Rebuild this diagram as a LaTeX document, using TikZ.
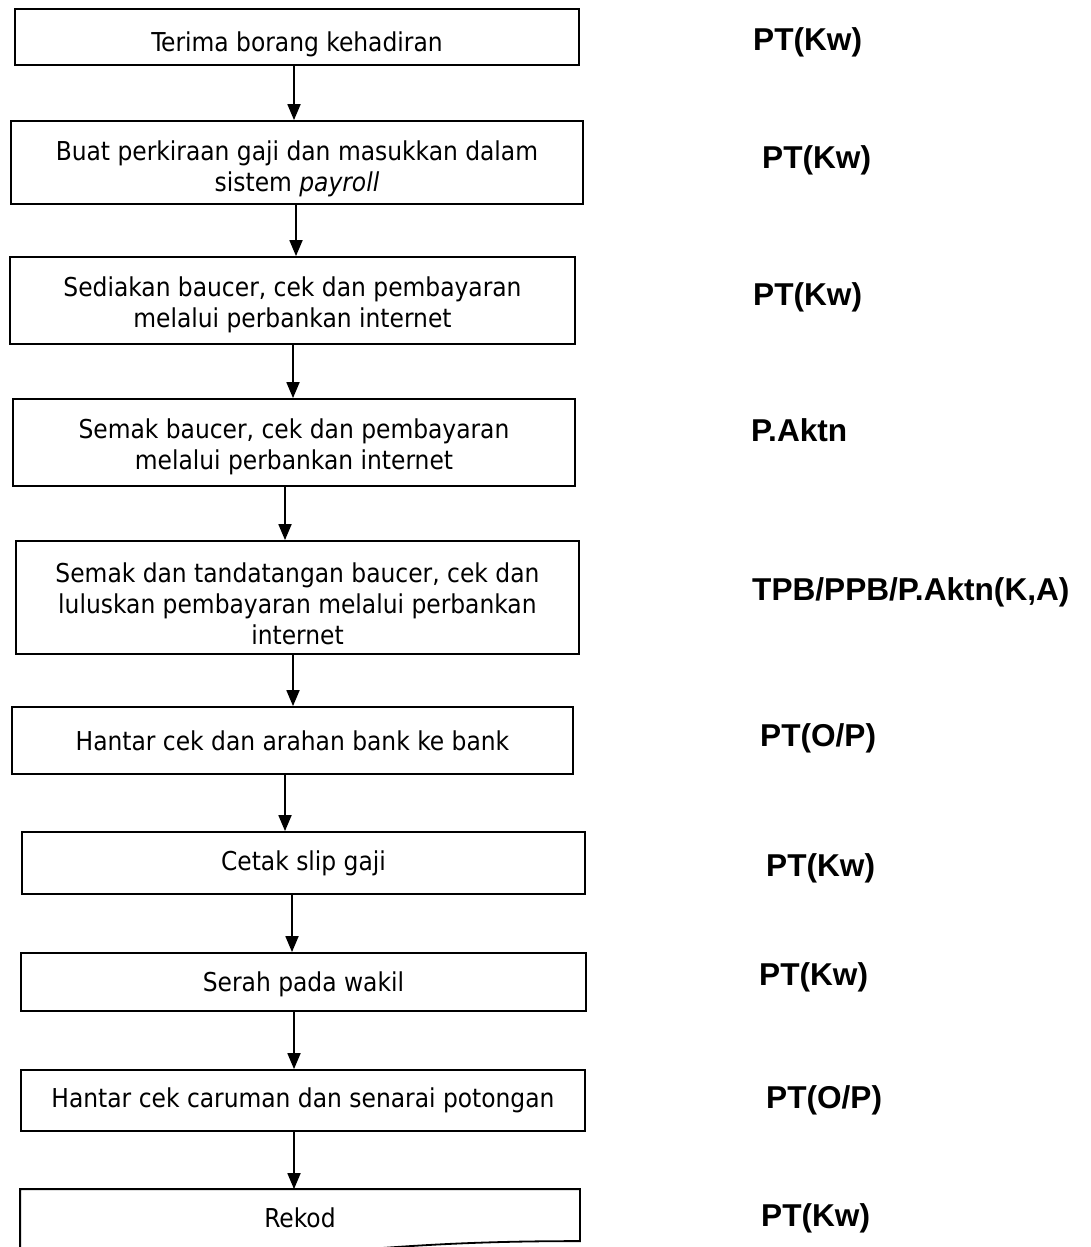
\documentclass[tikz,border=0pt]{standalone}
\usepackage{fontspec}
\setmainfont{Liberation Sans}
\newfontfamily\bxfont{DejaVu Sans Condensed}[ItalicFont={DejaVu Sans Condensed Oblique}]
\usetikzlibrary{arrows.meta}
\newcommand\dnstrut[1]{\rule{0pt}{#1}}
\begin{document}
\begin{tikzpicture}[x=1pt,y=-1pt,
  stepbox/.style={draw=black, line width=1.8pt, inner sep=0pt, align=center,
    font=\bxfont\fontsize{26}{31}\selectfont, text=black},
  flow/.style={line width=1.8pt, -{Triangle[width=13pt,length=16pt]}},
  role/.style={anchor=west, inner sep=0pt, font=\bfseries\fontsize{31.6}{36}\selectfont}]
\useasboundingbox (0,0) rectangle (1091,1247);
\clip (0,0) rectangle (1091,1247);

% process boxes
\node[stepbox, minimum width=564pt, minimum height=56pt] (b1) at (297,37) {\dnstrut{33.8pt}Terima borang kehadiran};
\node[stepbox, minimum width=572pt, minimum height=83pt] (b2) at (297,162.5) {\dnstrut{31.8pt}Buat perkiraan gaji dan masukkan dalam\\sistem \textit{payroll}};
\node[stepbox, minimum width=565pt, minimum height=87pt] (b3) at (292.5,300.5) {\dnstrut{27.8pt}Sediakan baucer, cek dan pembayaran\\melalui perbankan internet};
\node[stepbox, minimum width=562pt, minimum height=87pt] (b4) at (294,442.5) {\dnstrut{27.8pt}Semak baucer, cek dan pembayaran\\melalui perbankan internet};
\node[stepbox, minimum width=563pt, minimum height=113pt] (b5) at (297.5,597.5) {\dnstrut{31.8pt}Semak dan tandatangan baucer, cek dan\\luluskan pembayaran melalui perbankan\\internet};
\node[stepbox, minimum width=561pt, minimum height=67pt] (b6) at (292.5,740.5) {Hantar cek dan arahan bank ke bank};
\node[stepbox, minimum width=563pt, minimum height=62pt] (b7) at (303.5,863) {Cetak slip gaji};
\node[stepbox, minimum width=565pt, minimum height=58pt] (b8) at (303.5,982) {\dnstrut{23.8pt}Serah pada wakil};
\node[stepbox, minimum width=564pt, minimum height=61pt] (b9) at (303,1100.5) {Hantar cek caruman dan senarai potongan};
\node[stepbox, draw=none, minimum width=558pt, minimum height=56pt] (b10) at (300,1218) {Rekod};
\draw[line width=1.8pt] ([yshift=-30pt]b10.south west) -- (b10.north west) -- (b10.north east)
  -- ([yshift=-52pt]b10.north east)
  .. controls ([xshift=-90pt,yshift=-52pt]b10.north east) and ([xshift=-160pt,yshift=-55pt]b10.north east) .. ([xshift=-260pt,yshift=-64pt]b10.north east);

% connectors
\draw[flow] (b1.south -| 294,0) -- (b2.north -| 294,0);
\draw[flow] (b2.south -| 296,0) -- (b3.north -| 296,0);
\draw[flow] (b3.south -| 293,0) -- (b4.north -| 293,0);
\draw[flow] (b4.south -| 285,0) -- (b5.north -| 285,0);
\draw[flow] (b5.south -| 293,0) -- (b6.north -| 293,0);
\draw[flow] (b6.south -| 285,0) -- (b7.north -| 285,0);
\draw[flow] (b7.south -| 292,0) -- (b8.north -| 292,0);
\draw[flow] (b8.south -| 294,0) -- (b9.north -| 294,0);
\draw[flow] (b9.south -| 294,0) -- (b10.north -| 294,0);

% responsible parties
\node[role] (r1) at (753,42) {PT(Kw)};
\node[role] (r2) at (762,160) {PT(Kw)};
\node[role] (r3) at (753,297) {PT(Kw)};
\node[role] (r4) at (751,430) {P.Aktn};
\node[role] (r5) at (752,592) {TPB/PPB/P.Aktn(K,A)};
\node[role] (r6) at (760,738) {PT(O/P)};
\node[role] (r7) at (766,868) {PT(Kw)};
\node[role] (r8) at (759,977) {PT(Kw)};
\node[role] (r9) at (766,1100) {PT(O/P)};
\node[role] (r10) at (761,1218) {PT(Kw)};
\end{tikzpicture}
\end{document}
